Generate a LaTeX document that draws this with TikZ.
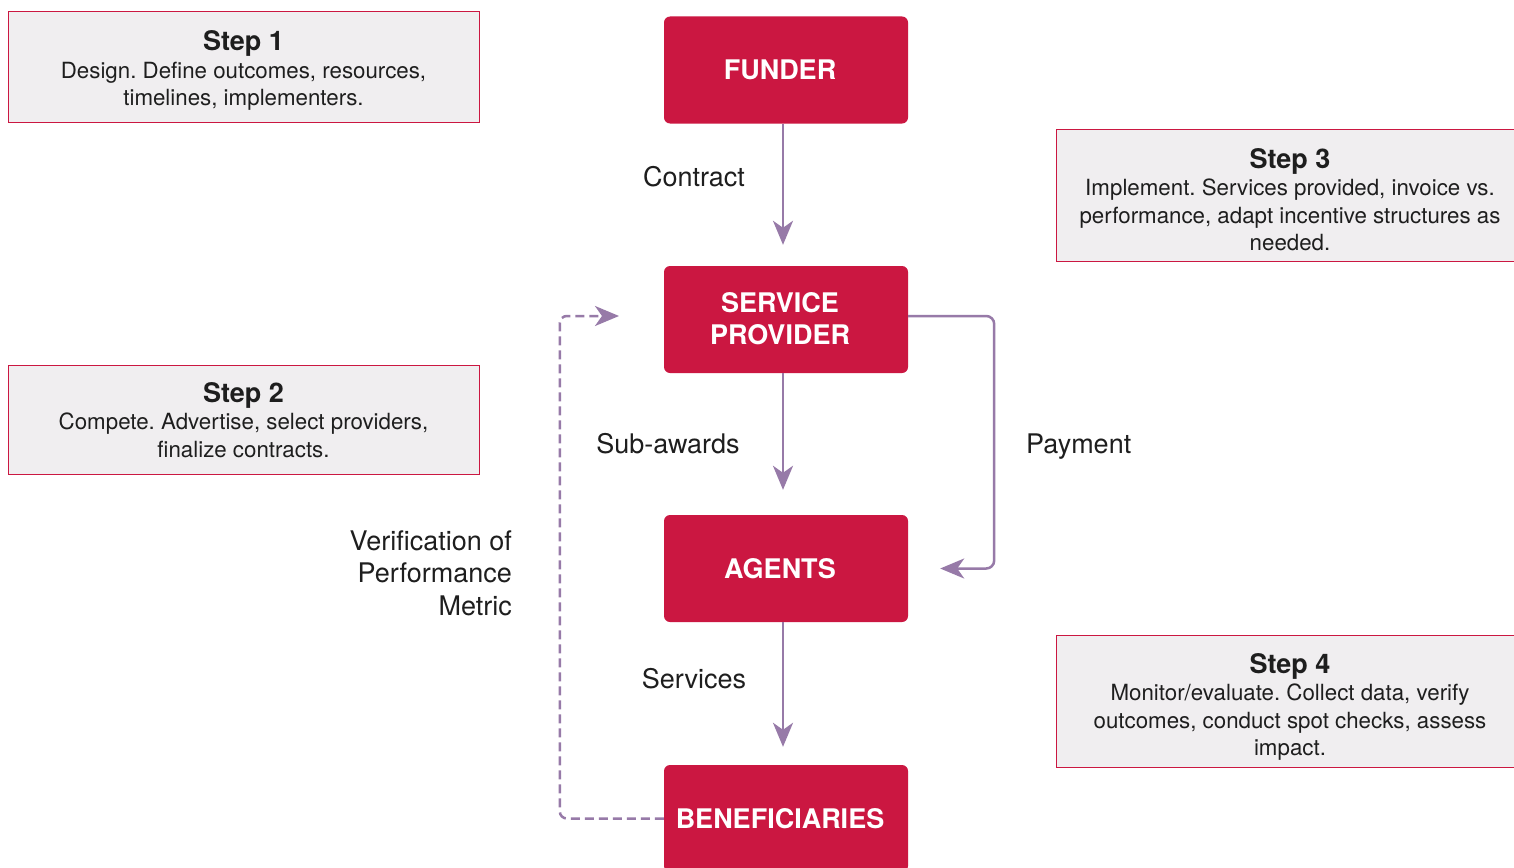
\documentclass[tikz,border=0pt]{standalone}
\usepackage{fontspec}
\setmainfont{TeX Gyre Heros}
\frenchspacing
\usetikzlibrary{arrows.meta,calc}
\definecolor{crimson}{HTML}{CB1741}
\definecolor{lilac}{HTML}{977AA8}
\definecolor{stepfill}{HTML}{F0EEF0}
\definecolor{ink}{HTML}{1E1E1E}
\newcommand{\steptitlefont}{\fontsize{27}{27.5}\selectfont\bfseries}
\tikzset{
  redbox/.style={fill=crimson, rounded corners=6pt, minimum width=244pt, minimum height=107pt,
    inner sep=0pt},
  redtext/.style={text=white, align=center, inner sep=0pt, font=\fontsize{27}{32}\selectfont\bfseries},
  stepbox/.style={draw=crimson, line width=1pt, fill=stepfill, minimum width=471pt, inner sep=0pt},
  steptext/.style={inner sep=0pt, align=center, text=ink, font=\fontsize{22.3}{27.5}\selectfont},
  lbl/.style={text=ink, font=\fontsize{27}{32.5}\selectfont, inner sep=0pt},
  arr/.style={draw=lilac, line width=2.5pt, -{Stealth[length=24pt,width=20pt,inset=7pt]}},
}
\begin{document}
\begin{tikzpicture}[x=1pt,y=-1pt]
\useasboundingbox (0,0) rectangle (1514,867);
\clip (0,0) rectangle (1514,867);
\fill[white] (0,0) rectangle (1514,867);

% main boxes
\node[redbox] (funder) at (786,70) {};
\node[redbox] (sp) at (786,319.5) {};
\node[redbox] (agents) at (786,568.5) {};
\node[redbox] (benef) at (786,818.5) {};
\node[redtext] (tfunder) at (780,70) {FUNDER};
\node[redtext] (tsp) at (780,318.5) {SERVICE\\PROVIDER};
\node[redtext] (tagents) at (780,569) {AGENTS};
\node[redtext] (tbenef) at (780,819) {BENEFICIARIES};

% step boxes
\node[stepbox, minimum height=110pt] (s1) at (243.5,67) {};
\node[steptext] (t1) at (243.5,70.5) {{\steptitlefont Step 1}\\Design. Define outcomes, resources,\\timelines, implementers.};
\node[stepbox, minimum height=109pt] (s2) at (243.5,419.5) {};
\node[steptext] (t2) at (243.5,420) {{\steptitlefont Step 2}\\Compete. Advertise, select providers,\\finalize contracts.};
\node[stepbox, minimum height=132pt] (s3) at (1291.5,195) {};
\node[steptext] (t3) at (1290,199.5) {{\steptitlefont Step 3}\\Implement. Services provided, invoice vs.\\performance, adapt incentive structures as\\needed.};
\node[stepbox, minimum height=132pt] (s4) at (1291.5,701) {};
\node[steptext] (t4) at (1290,707) {{\steptitlefont Step 4}\\Monitor/evaluate. Collect data, verify\\outcomes, conduct spot checks, assess\\impact.};

% connectors
\draw[arr, shorten >=21pt] ([xshift=-3pt]funder.south) -- ([xshift=-3pt]sp.north);
\draw[arr, shorten >=25pt] ([xshift=-3pt]sp.south) -- ([xshift=-3pt]agents.north);
\draw[arr, shorten >=18pt] ([xshift=-3pt]agents.south) -- ([xshift=-3pt]benef.north);
\draw[arr, rounded corners=8pt, shorten >=32pt] ([yshift=3.5pt]sp.east) -- ++(86,0) |- (agents.east);
\coordinate (vend) at (619,316);
\draw[arr, dash pattern=on 9pt off 5pt, line width=2.5pt, rounded corners=7pt] (benef.west) -- ++(-104,0) |- (vend);

% labels
\node[lbl] (lc) at (694,177) {Contract};
\node[lbl] (ls) at (668,444) {Sub-awards};
\node[lbl] (lsv) at (694,679) {Services};
\node[lbl, anchor=west] (lp) at (1026,447) {Payment};
\node[lbl, anchor=east, align=right] (lv) at (512,573) {Verification of\\Performance\\Metric};
\end{tikzpicture}
\end{document}
